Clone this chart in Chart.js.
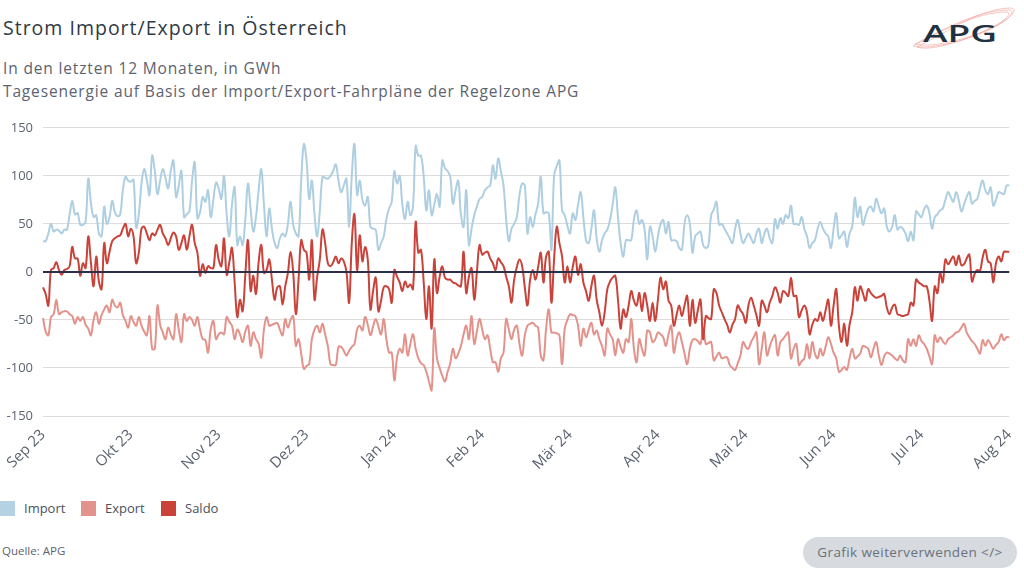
<!DOCTYPE html>
<html>
<head>
<meta charset="utf-8">
<script src="https://cdn.jsdelivr.net/npm/chart.js@4.4.1/dist/chart.umd.min.js"></script>
<style>
  html, body { margin:0; padding:0; background:#ffffff; width:1024px; height:576px; overflow:hidden; font-family: "Open Sans", Lato, sans-serif; }
  .abs { position:absolute; white-space:nowrap; }
  #title { left:3px; top:14px; font-size:19.5px; color:#2f3a44; letter-spacing:1px; }
  #sub1 { left:3px; top:57px; font-size:15.5px; color:#5c6370; letter-spacing:0.85px; }
  #sub2 { left:3px; top:80px; font-size:15.5px; color:#5c6370; letter-spacing:0.85px; }
  #wrap { position:absolute; left:0; top:110px; width:1024px; height:366px; }
  .sw { position:absolute; width:15px; height:15px; top:501px; }
  .lg { position:absolute; top:499px; font-size:13px; color:#4a525c; }
  #src { left:2px; top:543px; font-size:11.5px; color:#5c6370; }
  #btn { position:absolute; left:803px; top:537px; width:214px; height:31px; border-radius:16px; background:#d7dbe0; color:#69717b; font-size:13.5px; line-height:31px; text-align:center; letter-spacing:0.4px; }
  #logo { position:absolute; left:905px; top:4px; }
</style>
</head>
<body>
<div id="title" class="abs">Strom Import/Export in Österreich</div>
<div id="sub1" class="abs">In den letzten 12 Monaten, in GWh</div>
<div id="sub2" class="abs">Tagesenergie auf Basis der Import/Export-Fahrpläne der Regelzone APG</div>

<svg id="logo" width="115" height="50" viewBox="0 0 115 50">
  <g fill="none" stroke="#ee9f98" stroke-width="0.6">
    <path d="M8 42 C 30 30, 70 6, 104 6 C 112 6, 104 16, 88 24 C 60 38, 22 46, 8 42 Z"/>
    <path d="M10 40 C 34 28, 72 8, 102 8 C 108 9, 100 17, 84 25 C 58 37, 24 44, 10 40 Z"/>
    <path d="M12 43 C 36 32, 74 4, 106 4 C 114 5, 106 14, 90 22 C 62 36, 26 48, 12 43 Z"/>
  </g>
  <text x="18" y="38" font-family="Open Sans, sans-serif" font-weight="600" font-size="23" fill="#1f3242" textLength="74" lengthAdjust="spacingAndGlyphs">APG</text>
</svg>

<div id="wrap"><canvas id="c" width="1024" height="366"></canvas></div>

<div class="sw" style="left:0px;background:#b4d2e3"></div><div class="lg" style="left:24px">Import</div>
<div class="sw" style="left:81px;background:#e2938b"></div><div class="lg" style="left:105px">Export</div>
<div class="sw" style="left:161px;background:#c9433a"></div><div class="lg" style="left:185px">Saldo</div>

<div id="src" class="abs">Quelle: APG</div>
<div id="btn">Grafik weiterverwenden &lt;/&gt;</div>

<script>
// Month tick labels, one every 33 days starting 1 Sep 2023
const tickLabels = ['Sep 23','Okt 23','Nov 23','Dez 23','Jan 24','Feb 24','Mär 24','Apr 24','Mai 24','Jun 24','Jul 24','Aug 24'];
const tickEvery = 33;

// Daily import (GWh)
const importGWh = [
32,32,40,50,42,44,43,40,44,44,
60,74,60,61,49,49,52,97,72,57,
59,40,37,68,50,57,74,62,58,60,
85,99,95,94,96,46,60,92,107,96,
80,121,105,81,95,107,98,87,105,116,
78,90,105,57,60,63,95,114,56,62,
78,73,85,57,75,93,87,76,100,60,
37,70,88,28,37,28,55,92,65,42,
57,85,107,70,37,66,45,30,25,35,
40,37,50,73,49,40,37,95,133,116,
76,95,60,37,64,99,98,97,100,105,
112,95,83,90,97,47,100,133,80,95,
75,69,78,47,45,44,23,30,37,55,
66,73,105,92,100,70,55,73,59,68,
131,121,121,100,64,85,59,70,81,68,
116,108,105,99,71,85,95,60,47,85,
28,45,59,68,76,78,85,88,90,111,
97,118,105,90,55,32,45,50,57,80,
92,90,40,57,47,60,71,99,61,62,
61,23,100,110,116,64,59,48,40,61,
54,70,83,57,33,30,45,64,35,21,
33,40,44,54,70,88,57,30,16,33,
33,33,55,64,50,54,44,13,47,37,
21,37,50,54,40,52,33,33,32,25,
23,50,59,50,20,37,40,42,28,25,
28,59,65,73,49,50,45,40,35,30,
45,54,40,30,35,40,35,30,40,45,
30,40,45,35,30,55,45,56,50,59,
56,69,50,50,49,57,45,37,25,30,
33,45,52,45,40,37,25,45,61,35,
38,42,26,40,47,77,57,68,49,58,
66,68,63,76,68,61,66,47,42,47,
59,44,47,45,40,32,42,33,63,60,
57,65,69,61,45,57,60,64,66,75,
83,78,73,83,75,63,70,78,83,71,
74,76,87,95,85,81,88,69,75,83,
82,81,90,90];

// Daily export (GWh, negative)
const exportGWh = [
-48,-62,-66,-47,-44,-29,-44,-42,-41,-41,
-44,-46,-54,-47,-51,-47,-55,-59,-66,-50,
-42,-54,-45,-39,-35,-42,-29,-35,-37,-32,
-45,-51,-58,-46,-52,-56,-47,-56,-62,-66,
-46,-80,-80,-35,-55,-63,-70,-58,-65,-70,
-44,-60,-73,-44,-51,-47,-50,-56,-47,-60,
-70,-71,-84,-60,-51,-70,-65,-63,-65,-47,
-52,-56,-70,-60,-65,-73,-62,-56,-77,-63,
-70,-75,-89,-60,-47,-56,-55,-54,-53,-60,
-66,-49,-58,-50,-46,-77,-70,-85,-101,-98,
-96,-70,-60,-56,-63,-54,-65,-77,-96,-97,
-97,-78,-78,-82,-87,-82,-78,-75,-60,-56,
-61,-47,-55,-66,-57,-49,-57,-65,-49,-70,
-84,-84,-113,-89,-80,-84,-65,-87,-75,-65,
-80,-90,-95,-97,-104,-114,-123,-59,-90,-100,
-108,-114,-104,-95,-80,-90,-85,-77,-65,-56,
-70,-46,-75,-62,-49,-60,-70,-66,-80,-94,
-94,-104,-90,-84,-49,-60,-70,-60,-56,-75,
-87,-66,-56,-54,-53,-56,-58,-87,-92,-59,
-39,-63,-63,-64,-66,-96,-59,-50,-44,-45,
-46,-56,-77,-59,-68,-60,-53,-65,-61,-70,
-77,-87,-59,-65,-70,-87,-70,-78,-84,-70,
-73,-49,-80,-94,-70,-80,-87,-61,-63,-73,
-70,-63,-65,-68,-77,-65,-56,-84,-70,-63,
-73,-85,-96,-80,-71,-70,-72,-75,-59,-75,
-74,-73,-92,-88,-84,-90,-89,-89,-97,-100,
-102,-95,-87,-73,-78,-80,-73,-68,-63,-96,
-80,-63,-87,-78,-70,-66,-87,-73,-70,-66,
-63,-90,-80,-75,-97,-93,-90,-75,-90,-73,
-85,-90,-80,-87,-78,-68,-75,-84,-90,-104,
-102,-99,-102,-90,-80,-90,-88,-85,-77,-78,
-80,-89,-80,-73,-87,-97,-88,-84,-85,-87,
-90,-92,-87,-92,-94,-70,-77,-70,-77,-66,
-72,-75,-80,-88,-96,-66,-73,-68,-72,-75,
-70,-68,-66,-63,-62,-58,-54,-63,-68,-72,
-75,-80,-85,-71,-77,-71,-75,-80,-76,-73,
-65,-71,-68,-68];

// Daily balance (GWh)
const saldoGWh = [
-16,-23,-35,2,4,10,2,-3,2,3,
6,26,14,14,-4,9,4,37,10,-15,
16,-10,-18,30,9,21,32,35,37,38,
45,50,37,45,37,9,20,45,47,40,
33,40,38,44,49,40,35,28,35,41,
37,23,30,38,23,37,49,30,20,-4,
8,-1,6,4,4,28,13,6,35,-3,
10,25,-11,-47,-29,-41,-3,33,-20,-4,
-23,10,28,-1,2,13,-8,-29,-16,-15,
-34,-15,-1,21,-1,-44,-8,33,23,20,
-8,33,-29,-5,13,44,30,9,6,10,
16,9,14,11,0,-32,30,60,2,38,
11,26,13,-39,-20,-6,-41,-30,-16,-15,
-18,-32,2,-5,-11,-20,-10,-16,-13,-18,
52,20,23,-10,-49,-15,-59,13,-22,-5,
6,-6,-8,-8,-11,-12,-14,-15,21,-22,
-5,4,-29,0,28,18,20,21,14,9,
2,14,10,6,-5,-15,-32,-8,5,13,
6,-16,-35,-8,2,-8,5,20,-11,16,
21,-32,13,47,30,16,-11,6,-11,5,
16,-3,8,-11,-20,-30,-15,-4,-29,-42,
-56,-42,-18,-10,-6,-4,-29,-59,-39,-47,
-35,-20,-30,-35,-22,-41,-22,-35,-51,-32,
-51,-29,-6,-18,-10,-30,-35,-56,-45,-35,
-46,-35,-25,-56,-29,-53,-40,-29,-70,-46,
-48,-49,-18,-22,-35,-42,-49,-55,-63,-55,
-49,-35,-40,-44,-53,-35,-27,-35,-45,-56,
-30,-35,-42,-32,-25,-16,-22,-32,-20,-22,
-25,-6,-25,-25,-47,-40,-35,-42,-65,-55,
-49,-51,-42,-51,-40,-29,-56,-35,-18,-56,
-73,-54,-77,-55,-42,-16,-30,-15,-22,-30,
-18,-22,-25,-27,-26,-25,-23,-37,-44,-37,
-34,-44,-45,-46,-45,-44,-32,-35,-8,-11,
-13,-15,-15,-30,-51,-15,-22,-1,-11,13,
8,12,16,7,17,7,8,14,18,-10,
-2,2,1,15,23,11,9,-11,9,16,
11,21,21,21];

const yTicks = [-150,-100,-50,0,50,100,150];

const COLORS = { import:'#aecfe1', export:'#e3938b', saldo:'#c9433a', grid:'#dcdcdc', zero:'#2b2f4a', text:'#5c6370' };

// category labels: month label at every tickEvery-th day, blank otherwise
const labels = importGWh.map((_, i) => (i % tickEvery === 0 && tickLabels[i / tickEvery]) ? tickLabels[i / tickEvery] : '');

const zeroLinePlugin = {
  id: 'zeroLine',
  afterDatasetsDraw(chart) {
    const y = chart.scales.y.getPixelForValue(0);
    const { left, right } = chart.chartArea;
    const ctx = chart.ctx;
    ctx.save();
    ctx.strokeStyle = COLORS.zero;
    ctx.lineWidth = 2;
    ctx.beginPath();
    ctx.moveTo(left, y);
    ctx.lineTo(right, y);
    ctx.stroke();
    ctx.restore();
  }
};

new Chart(document.getElementById('c'), {
  type: 'line',
  data: {
    labels: labels,
    datasets: [
      { label:'Import', data: importGWh, borderColor: COLORS.import, order: 3 },
      { label:'Export', data: exportGWh, borderColor: COLORS.export, order: 2 },
      { label:'Saldo',  data: saldoGWh,  borderColor: COLORS.saldo,  order: 1 }
    ]
  },
  options: {
    responsive: false,
    animation: false,
    layout: { padding: { left: 0, right: 7, top: 15, bottom: 0 } },
    elements: {
      point: { radius: 0 },
      line: { tension: 0.4, borderWidth: 2, fill: false }
    },
    plugins: { legend: { display: false }, tooltip: { enabled: false } },
    scales: {
      x: {
        grid: { display: false },
        border: { display: false },
        afterFit(scale) { scale.height = 60; },
        ticks: {
          autoSkip: false, minRotation: 45, maxRotation: 45, padding: 2,
          color: COLORS.text, font: { family: 'Open Sans', size: 15 },
          callback: (v, i) => labels[i] ? labels[i] : null
        }
      },
      y: {
        min: -150, max: 150,
        afterFit(scale) { scale.width = 43; },
        afterBuildTicks(scale) { scale.ticks = yTicks.map(v => ({ value: v })); },
        border: { display: false },
        grid: { color: COLORS.grid, lineWidth: 1, drawTicks: false },
        ticks: { color: COLORS.text, font: { family: 'Open Sans', size: 13 }, padding: 10 }
      }
    }
  },
  plugins: [zeroLinePlugin]
});
</script>
</body>
</html>
